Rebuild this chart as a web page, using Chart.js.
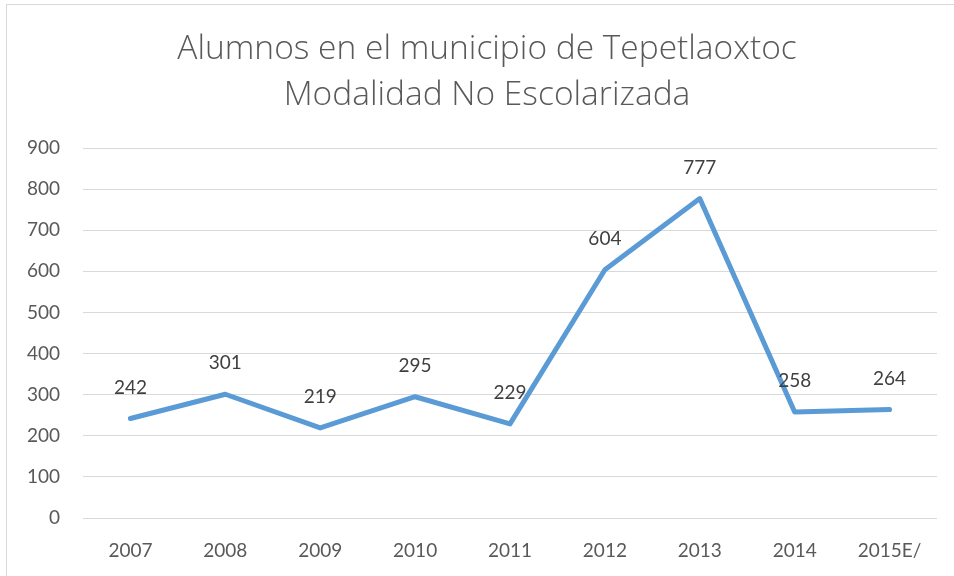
<!DOCTYPE html>
<html>
<head>
<meta charset="utf-8">
<script src="https://cdn.jsdelivr.net/npm/chart.js@4/dist/chart.umd.min.js"></script>
<style>
  html, body { margin: 0; padding: 0; background: #fff; overflow: hidden; }
  #marco { position: absolute; left: 6px; top: 4px; width: 1000px; height: 600px; border: 1px solid #d9d9d9; }
  #grafica { position: absolute; left: 0; top: 0; }
</style>
</head>
<body>
<div id="marco"></div>
<canvas id="grafica" width="954" height="576"></canvas>
<script>
const anios = ['2007', '2008', '2009', '2010', '2011', '2012', '2013', '2014', '2015E/'];
const alumnos = [242, 301, 219, 295, 229, 604, 777, 258, 264];
const titulo = ['Alumnos en el municipio de Tepetlaoxtoc', 'Modalidad No Escolarizada'];

// etiquetas de valor encima de cada punto
const etiquetasValor = {
    id: 'etiquetasValor',
    afterDatasetsDraw(chart) {
        const ctx = chart.ctx;
        const meta = chart.getDatasetMeta(0);
        ctx.save();
        ctx.font = '19px Lato';
        ctx.fillStyle = '#404040';
        ctx.textAlign = 'center';
        ctx.textBaseline = 'middle';
        meta.data.forEach((pt, i) => {
            ctx.fillText(alumnos[i], pt.x, pt.y - 31);
        });
        ctx.restore();
    }
};

// titulo centrado sobre todo el marco (el marco sigue mas alla del borde derecho)
const tituloGrafica = {
    id: 'tituloGrafica',
    afterDraw(chart) {
        const ctx = chart.ctx;
        ctx.save();
        ctx.font = '300 33.5px "Open Sans"';
        ctx.fillStyle = '#595959';
        ctx.textAlign = 'center';
        ctx.textBaseline = 'alphabetic';
        titulo.forEach((linea, i) => {
            ctx.fillText(linea, 487, 59 + i * 46);
        });
        ctx.restore();
    }
};

const ctx = document.getElementById('grafica').getContext('2d');
new Chart(ctx, {
    type: 'line',
    data: {
        labels: anios,
        datasets: [{
            label: 'Alumnos',
            data: alumnos,
            borderColor: '#5b9bd5',
            borderWidth: 5,
            borderCapStyle: 'round',
            borderJoinStyle: 'round',
            pointRadius: 0,
            tension: 0,
            fill: false
        }]
    },
    options: {
        responsive: false,
        animation: false,
        layout: { padding: { left: 20, right: 17, top: 148, bottom: 0 } },
        plugins: {
            legend: { display: false },
            tooltip: { enabled: false },
            title: { display: false }
        },
        scales: {
            x: {
                offset: true,
                grid: { display: false, drawTicks: false },
                border: { display: false },
                ticks: { color: '#595959', font: { family: 'Lato', size: 19 }, padding: 21 },
                afterFit(scale) { scale.height = 58; }
            },
            y: {
                min: 0,
                max: 900,
                ticks: { stepSize: 100, color: '#595959', font: { family: 'Lato', size: 19 }, padding: 23 },
                grid: { color: '#d9d9d9', lineWidth: 1, drawTicks: false },
                border: { display: false },
                afterFit(scale) { scale.width = 63; }
            }
        }
    },
    plugins: [etiquetasValor, tituloGrafica]
});
</script>
</body>
</html>
